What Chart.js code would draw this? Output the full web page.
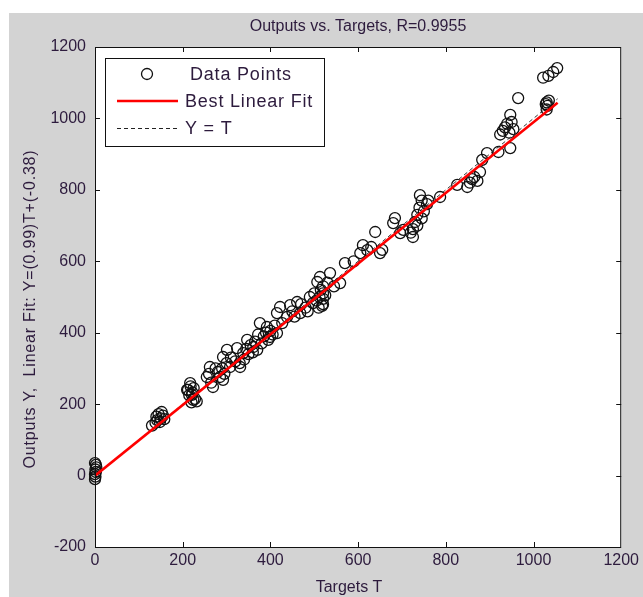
<!DOCTYPE html>
<html>
<head>
<meta charset="utf-8">
<script src="https://cdn.jsdelivr.net/npm/chart.js@4.4.1/dist/chart.umd.min.js"></script>
<style>
  html, body { margin: 0; padding: 0; background: #fff; }
  canvas { display: block; }
</style>
</head>
<body>
<canvas id="regChart" width="643" height="597"></canvas>
<script>
// Targets T and network outputs Y
const targets = [
    0, 1, 0, 2, 1, 3, 2, 0,
    140, 145, 150, 148, 155, 142, 152, 158, 138, 130,
    212, 218, 222, 228, 215, 225, 232, 220, 217, 210, 224, 221,
    255, 262, 269, 285, 292, 292, 301, 308, 280, 265, 275, 295, 300, 290, 260,
    324, 331, 338, 347, 361, 370, 376, 392, 399, 415, 415, 422, 445, 310, 320,
    340, 350, 355, 365, 380, 385, 390, 400, 405, 410, 360, 330, 345, 372, 395,
    427, 438, 461, 468, 497, 507, 513, 520, 520, 520, 520, 536, 559, 450, 480,
    490, 500, 505, 510, 515, 525, 470, 485, 455, 530, 545, 512, 518,
    570, 605, 611, 621, 639, 650, 655, 680, 684, 696, 703, 725, 725, 730, 735,
    740, 745, 741, 750, 757, 735, 720, 745, 590, 630, 760,
    787, 826, 849, 855, 860, 865, 872, 878, 883, 894, 920, 947, 924, 930, 935,
    940, 945, 950, 954, 947, 965,
    1022, 1034, 1045, 1054, 1030, 1032, 1030, 1035, 1028
];
const outputs = [
    -10, -3, 4, 10, 17, 23, 30, 35,
    165, 172, 160, 150, 168, 155, 178, 158, 148, 140,
    240, 250, 232, 215, 225, 245, 208, 205, 259, 240, 212, 226,
    276, 304, 248, 276, 268, 332, 352, 304, 290, 260, 300, 285, 315, 300, 285,
    357, 304, 343, 380, 360, 352, 427, 416, 388, 399, 455, 472, 477, 330, 320,
    325, 340, 365, 375, 370, 390, 400, 405, 395, 420, 345, 315, 355, 395, 380,
    427, 444, 486, 455, 483, 542, 556, 480, 495, 510, 530, 567, 539, 460, 470,
    500, 510, 490, 470, 520, 505, 480, 460, 445, 540, 530, 500, 475,
    595, 623, 645, 631, 682, 623, 632, 707, 721, 679, 688, 668, 690, 710, 730,
    750, 770, 785, 740, 760, 700, 680, 720, 600, 640, 770,
    780, 814, 808, 820, 830, 836, 825, 850, 884, 903, 906, 917, 955, 965, 975,
    985, 960, 990, 970, 1010, 1057,
    1114, 1119, 1130, 1141, 1025, 1035, 1045, 1050, 1040
];

// Line end points: best fit Y=(0.99)T+(-0.38) and the identity line
const fitT = [0, 1055];
const fitY = [-0.38, 1044.1];
const identT = [0, 1055];
const identY = [0, 1055];

// Axis ticks
const xTicks = [0, 200, 400, 600, 800, 1000, 1200];
const yTicks = [-200, 0, 200, 400, 600, 800, 1000, 1200];

const textColor = '#2d1b3d';
const fontFace = '"Liberation Sans", Arial, sans-serif';

const toXY = (xs, ys) => xs.map((x, i) => ({ x: x, y: ys[i] }));

// Figure background, white axes box, frame with inward ticks, texts and legend
const matlabLook = {
    id: 'matlabLook',
    beforeDraw(chart) {
        const ctx = chart.ctx;
        const a = chart.chartArea;
        ctx.save();
        ctx.fillStyle = '#ffffff';
        ctx.fillRect(0, 0, chart.width, chart.height);
        ctx.fillStyle = '#d3d3d3';
        ctx.fillRect(9, 13, chart.width - 9, chart.height - 13);
        ctx.fillStyle = '#ffffff';
        ctx.fillRect(a.left, a.top, a.right - a.left, a.bottom - a.top);
        ctx.restore();
    },
    afterDraw(chart) {
        const ctx = chart.ctx;
        const a = chart.chartArea;
        const xs = chart.scales.x;
        const ys = chart.scales.y;
        const tick = 5;
        ctx.save();
        ctx.strokeStyle = '#111';
        ctx.lineWidth = 1;
        ctx.strokeRect(a.left + 0.5, a.top + 0.5, a.right - a.left - 1, a.bottom - a.top);
        ctx.beginPath();
        xTicks.slice(1, -1).forEach(v => {
            const px = Math.round(xs.getPixelForValue(v)) + 0.5;
            ctx.moveTo(px, a.bottom); ctx.lineTo(px, a.bottom - tick);
            ctx.moveTo(px, a.top); ctx.lineTo(px, a.top + tick);
        });
        yTicks.slice(1, -1).forEach(v => {
            const py = Math.round(ys.getPixelForValue(v)) + 0.5;
            ctx.moveTo(a.left, py); ctx.lineTo(a.left + tick, py);
            ctx.moveTo(a.right, py); ctx.lineTo(a.right - tick, py);
        });
        ctx.stroke();

        // title and axis labels
        ctx.fillStyle = textColor;
        ctx.font = '16px ' + fontFace;
        ctx.textAlign = 'center';
        ctx.textBaseline = 'middle';
        ctx.fillText('Outputs vs. Targets, R=0.9955', 358, 27);
        ctx.fillText('Targets T', 349, 588);
        ctx.save();
        ctx.translate(31, 309);
        ctx.rotate(-Math.PI / 2);
        ctx.letterSpacing = '0.8px';
        ctx.fillText('Outputs Y,  Linear Fit: Y=(0.99)T+(-0.38)', 0, 0);
        ctx.restore();

        // legend
        ctx.fillStyle = '#ffffff';
        ctx.fillRect(105, 58, 219, 88);
        ctx.strokeStyle = '#111';
        ctx.strokeRect(105.5, 58.5, 219, 88);
        ctx.lineWidth = 1.3;
        ctx.beginPath();
        ctx.arc(147, 74, 5.5, 0, Math.PI * 2);
        ctx.stroke();
        ctx.strokeStyle = '#ff0000';
        ctx.lineWidth = 2.5;
        ctx.beginPath();
        ctx.moveTo(117, 101); ctx.lineTo(178, 101);
        ctx.stroke();
        ctx.strokeStyle = '#222';
        ctx.lineWidth = 1;
        ctx.setLineDash([4, 3]);
        ctx.beginPath();
        ctx.moveTo(117, 128.5); ctx.lineTo(178, 128.5);
        ctx.stroke();
        ctx.setLineDash([]);
        ctx.fillStyle = textColor;
        ctx.font = '18px ' + fontFace;
        ctx.letterSpacing = '0.8px';
        ctx.textAlign = 'left';
        ctx.fillText('Data Points', 190, 75);
        ctx.fillText('Best Linear Fit', 185, 102);
        ctx.fillText('Y = T', 185, 129);
        ctx.restore();
    }
};

const plainNumber = v => String(v);

const ctx = document.getElementById('regChart').getContext('2d');
const regChart = new Chart(ctx, {
    type: 'scatter',
    data: {
        datasets: [
            {
                label: 'Data Points',
                data: toXY(targets, outputs),
                pointStyle: 'circle',
                pointRadius: 5.5,
                pointBorderWidth: 1.3,
                pointBorderColor: '#111',
                pointBackgroundColor: 'rgba(0,0,0,0)',
                showLine: false,
                clip: false,
                order: 3
            },
            {
                label: 'Y = T',
                type: 'line',
                data: toXY(identT, identY),
                borderColor: '#333',
                borderWidth: 1,
                borderDash: [4, 3],
                pointRadius: 0,
                fill: false,
                order: 2
            },
            {
                label: 'Best Linear Fit',
                type: 'line',
                data: toXY(fitT, fitY),
                borderColor: '#ff0000',
                borderWidth: 2.6,
                pointRadius: 0,
                fill: false,
                order: 1
            }
        ]
    },
    options: {
        responsive: false,
        animation: false,
        devicePixelRatio: 1,
        layout: { padding: { top: 47, right: 21, left: 0, bottom: 0 } },
        plugins: {
            legend: { display: false },
            title: { display: false },
            tooltip: { enabled: false }
        },
        scales: {
            x: {
                type: 'linear',
                min: 0,
                max: 1200,
                afterBuildTicks: s => { s.ticks = xTicks.map(v => ({ value: v })); },
                ticks: { color: textColor, font: { size: 16, family: fontFace }, padding: 4, callback: plainNumber },
                grid: { display: false, drawTicks: false },
                border: { display: false },
                afterFit: s => { s.height = 50; }
            },
            y: {
                type: 'linear',
                min: -200,
                max: 1200,
                afterBuildTicks: s => { s.ticks = yTicks.map(v => ({ value: v })); },
                ticks: { color: textColor, font: { size: 16, family: fontFace }, padding: 9, callback: plainNumber },
                grid: { display: false, drawTicks: false },
                border: { display: false },
                afterFit: s => { s.width = 95; }
            }
        }
    },
    plugins: [matlabLook]
});
</script>
</body>
</html>
